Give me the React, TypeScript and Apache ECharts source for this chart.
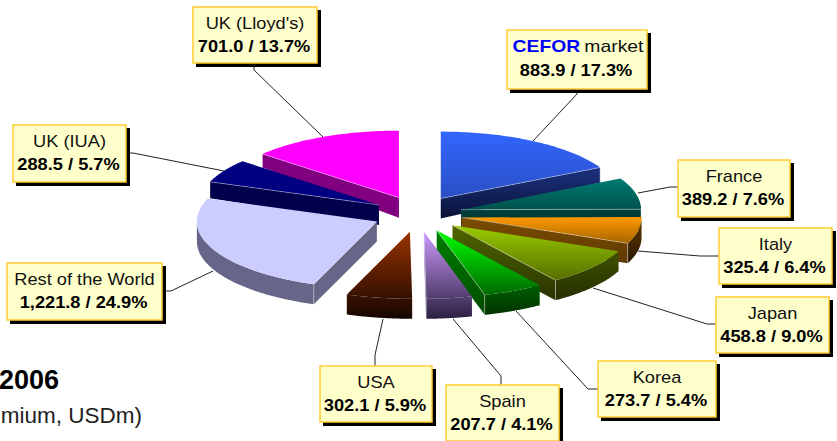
import React, { useEffect, useRef } from "react";
import * as echarts from "echarts";

const names = ["CEFOR market", "France", "Italy", "Japan", "Korea", "Spain", "USA", "Rest of the World", "UK (IUA)", "UK (Lloyd's)"];
const premiums = ["883.9", "389.2", "325.4", "458.8", "273.7", "207.7", "302.1", "1,221.8", "288.5", "701.0"];
const shares = [17.3, 7.6, 6.4, 9.0, 5.4, 4.1, 5.9, 24.9, 5.7, 13.7];
const titleLine = "2006";
const subtitleLine = "mium, USDm)";

// slice colours: top face gradient, outer side gradient, radial face gradient
const topColors = [
  ["#3366FF", "#2A4FC4"], ["#007C72", "#00504C"], ["#FF9900", "#A56400"], ["#99CC00", "#566F00"], ["#00FF00", "#006A00"],
  ["#CC99FF", "#2B2040"], ["#993300", "#160600"], ["#CCCCFF", "#CCCCFF"], ["#000080", "#000080"], ["#FF00FF", "#FF00FF"],
];
const sideColors = [
  ["#1C3280", "#0A1238"], ["#00403C", "#002C2C"], ["#5E3A00", "#2C1800"], ["#3F5200", "#252E00"], ["#006000", "#003200"],
  ["#CC99FF", "#2B2040"], ["#993300", "#160600"], ["#666688", "#666688"], ["#00004C", "#00004C"], ["#800080", "#800080"],
];
const faceColors = [
  ["#1C3280", "#0A1238"], ["#00403C", "#003030"], ["#7A4C00", "#5E3A00"], ["#4F6600", "#2A3300"], ["#008000", "#004A00"],
  ["#9A80BC", "#5F4A7A"], ["#451800", "#120500"], ["#666688", "#666688"], ["#00004C", "#00004C"], ["#800080", "#800080"],
];
// slices whose top face and wall share one continuous shading
const seamless = [5, 6];

const PIE = { cx: 417.6, cy: 214, rx: 180, ry: 67, ex: 44.8, ey: 18, depth: 20 };

// label boxes [left, top, right, bottom] and leader lines
const boxes = [
  [507, 30, 647, 89], [678, 160, 790, 217], [719, 228, 832, 284], [716, 297, 829, 353], [598, 361, 716, 417],
  [446, 385, 559, 441], [320, 366, 432, 422], [7, 263, 162, 320], [13, 125, 126, 182], [193, 7, 317, 63],
];
const leaders = [
  [[577, 89], [577, 94], [533, 141]],
  [[638, 193], [670, 187], [678, 187]],
  [[638, 251], [700, 256], [719, 256]],
  [[593, 288], [707, 324], [716, 324]],
  [[516, 311], [588, 389], [598, 389]],
  [[453, 319], [501, 376], [501, 385]],
  [[383, 319], [375, 355], [375, 366]],
  [[213, 271], [171, 291], [162, 291]],
  [[126, 153], [133, 153], [224, 171]],
  [[254, 63], [254, 70], [323, 137]],
];

const FONT = "'Liberation Sans', Arial, sans-serif";
const total = shares.reduce((a, b) => a + b, 0);

function grad(y0: number, y1: number, c: string[]) {
  return { type: "linear", x: 0, y: y0, x2: 0, y2: Math.max(y1, y0 + 1), global: true, colorStops: [{ offset: 0, color: c[0] }, { offset: 1, color: c[1] }] };
}

function renderSlice(params: any, api: any) {
  const i = params.dataIndex;
  const value = api.value(0);
  let before = 0;
  for (let k = 0; k < i; k++) before += shares[k];
  const a0 = (before / total) * Math.PI * 2;
  const a1 = ((before + value) / total) * Math.PI * 2;
  const mid = (a0 + a1) / 2;
  const ax = PIE.cx + PIE.ex * Math.sin(mid);
  const ay = PIE.cy - PIE.ey * Math.cos(mid);
  const pt = (t: number) => [ax + PIE.rx * Math.sin(t), ay - PIE.ry * Math.cos(t)];
  const dep = (y: number) => PIE.depth + Math.min(0, y - ay) * 0.15;
  const z = Math.round(ay * 10) * 10;
  const children: any[] = [];
  const smooth = seamless.includes(i);

  const arc: number[][] = [];
  const n = 60;
  for (let k = 0; k <= n; k++) arc.push(pt(a0 + ((a1 - a0) * k) / n));
  const ys = arc.map((p) => p[1]).concat([ay]);
  const yMin = Math.min(...ys);
  const yMax = Math.max(...ys);

  const radialFace = (t: number) => {
    const c = pt(t);
    const dc = dep(c[1]);
    children.push({
      type: "polygon", z2: z + 1,
      shape: { points: [[ax, ay], c, [c[0], c[1] + dc], [ax, ay + PIE.depth]] },
      style: { fill: grad(Math.min(ay, c[1]), Math.max(ay, c[1]) + PIE.depth, faceColors[i]) },
    });
    children.push({
      type: "polyline", z2: z + 4,
      shape: { points: [[ax, ay], c, [c[0], c[1] + dc]] },
      style: { fill: "none", stroke: "rgba(255,255,255,0.45)", lineWidth: 0.8 },
    });
  };
  if (Math.sin(a1) > 0) radialFace(a1);
  if (Math.sin(a0) < 0) radialFace(a0);

  // outer wall: only the part of the rim that faces the viewer
  const wallFrom = Math.max(a0, Math.PI / 2);
  const wallTo = Math.min(a1, (Math.PI * 3) / 2);
  if (wallTo > wallFrom) {
    const upper: number[][] = [];
    for (let k = 0; k <= n; k++) upper.push(pt(wallFrom + ((wallTo - wallFrom) * k) / n));
    const lower = upper.map((p) => [p[0], p[1] + dep(p[1])]).reverse();
    const wy = upper.map((p) => p[1]);
    const fill = smooth ? grad(yMin, yMax + PIE.depth, sideColors[i]) : grad(Math.min(...wy), Math.max(...wy) + PIE.depth, sideColors[i]);
    children.push({ type: "polygon", z2: z + 2, shape: { points: upper.concat(lower) }, style: { fill } });
  }

  children.push({
    type: "polygon", z2: z + 3,
    shape: { points: [[ax, ay] as number[]].concat(arc) },
    style: { fill: grad(yMin, smooth ? yMax + PIE.depth : yMax, topColors[i]) },
  });

  return { type: "group", children };
}

function labelElements(): any[] {
  const out: any[] = [];
  names.forEach((name, i) => {
    const [l, t, r, b] = boxes[i];
    const cx = (l + r) / 2;
    out.push({ type: "polyline", z: 1, silent: true, shape: { points: leaders[i] }, style: { fill: "none", stroke: "#222", lineWidth: 1 } });
    out.push({ type: "rect", z: 10, silent: true, shape: { x: l + 3, y: t + 3, width: r - l + 1, height: b - t + 1 }, style: { fill: "#000" } });
    out.push({ type: "rect", z: 11, silent: true, shape: { x: l, y: t, width: r - l, height: b - t }, style: { fill: "#FFFFCC", stroke: "#FFCC33", lineWidth: 1.5 } });
    if (i === 0) {
      out.push({
        type: "text", z: 12, silent: true, x: cx + 1, y: t + 17, scaleX: 1.21,
        style: {
          text: "{a|CEFOR} {b|market}", align: "center", verticalAlign: "middle",
          rich: {
            a: { fontFamily: FONT, fontSize: 16, fontWeight: "bold", fill: "#0000FF" },
            b: { fontFamily: FONT, fontSize: 16, fill: "#111" },
          },
        },
      });
    } else {
      out.push({
        type: "text", z: 12, silent: true, x: cx, y: t + 16, scaleX: 1.14,
        style: { text: name, align: "center", verticalAlign: "middle", fontFamily: FONT, fontSize: 16, fill: "#111" },
      });
    }
    out.push({
      type: "text", z: 12, silent: true, x: cx - 1, y: t + (i === 0 ? 40 : 39), scaleX: 1.14,
      style: { text: `${premiums[i]} / ${shares[i].toFixed(1)}%`, align: "center", verticalAlign: "middle", fontFamily: FONT, fontSize: 16, fontWeight: "bold", fill: "#000" },
    });
  });
  out.push({ type: "text", silent: true, x: 59, y: 380, style: { text: titleLine, align: "right", verticalAlign: "middle", fontFamily: FONT, fontSize: 27, fontWeight: "bold", fill: "#000" } });
  out.push({ type: "text", silent: true, x: 142, y: 415, style: { text: subtitleLine, align: "right", verticalAlign: "middle", fontFamily: FONT, fontSize: 22.5, fill: "#222" } });
  return out;
}

export default function App() {
  const ref = useRef<HTMLDivElement>(null);
  useEffect(() => {
    const chart = echarts.init(ref.current!, undefined, { renderer: "svg" });
    chart.setOption({
      animation: false,
      backgroundColor: "#fff",
      series: [{ type: "custom", coordinateSystem: "none", silent: true, renderItem: renderSlice, data: shares.map((v) => [v]) }],
      graphic: { elements: labelElements() },
    });
    return () => chart.dispose();
  }, []);
  return <div ref={ref} style={{ position: "absolute", left: 0, top: 0, width: 837, height: 441 }} />;
}
